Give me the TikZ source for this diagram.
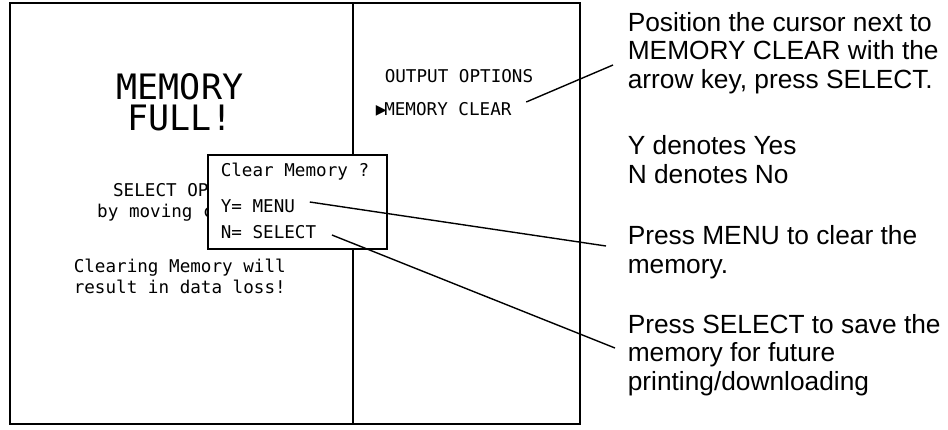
\documentclass[tikz,border=0pt]{standalone}
\usepackage{fontspec}
\setmainfont{Liberation Sans}
\newfontfamily\lcdfont{DejaVu Sans Mono}
\newfontfamily\symfont{DejaVu Sans}

\begin{document}
\begin{tikzpicture}[x=1pt, y=-1pt, line width=1.6pt,
	lcd/.style={font=\lcdfont\fontsize{17.6}{21}\selectfont, inner sep=0pt, anchor=base west},
	big/.style={font=\lcdfont\fontsize{35}{31}\selectfont, inner sep=0pt, align=center, anchor=base},
	note/.style={font=\fontsize{26.3}{28.5}\selectfont, inner sep=0pt, align=left, anchor=base west},
	lead/.style={line width=1.4pt}]
	\useasboundingbox (0,0) rectangle (948,429);
	\draw (10,3) rectangle (353,424);
	\draw (353,3) rectangle (580,424);

	\node[big] (full) at (180,130) {MEMORY\\FULL!};
	\node[lcd, align=center, anchor=base] (selopt) at (182,217) {SELECT OPTION\\by moving cursor};
	\node[lcd, align=left] (warn) at (73,293) {Clearing Memory will\\result in data loss!};

	\node[lcd] (outopt) at (384,82) {OUTPUT OPTIONS};
	\node[lcd] (optclr) at (375,115) {\makebox[8.5pt][l]{\raisebox{0.5pt}{\symfont\fontsize{14}{14}\selectfont ▶}}MEMORY CLEAR};

	\node[draw, fill=white, minimum width=179, minimum height=94, anchor=north west] (popup) at (207,154) {};
	\node[lcd] (askclr) at (220,176) {Clear Memory ?};
	\node[lcd] (menuY) at (220,212) {Y= MENU};
	\node[lcd] (selN) at (220,238) {N= SELECT};

	\node[note] (notecursor) at (627,88) {Position the cursor next to\\MEMORY CLEAR with the\\arrow key, press SELECT.};
	\node[note] (noteyn) at (627,183) {Y denotes Yes\\N denotes No};
	\node[note] (noteclear) at (627,273) {Press MENU to clear the\\memory.};
	\node[note] (notesave) at (627,390) {Press SELECT to save the\\memory for future\\printing/downloading};

	\draw[lead] ([shift={(14,-13)}]optclr.base east) -- ([shift={(-14,-23)}]notecursor.base west);
	\draw[lead] ([shift={(14,-10)}]menuY.base east) -- ([shift={(-21,-27)}]noteclear.base west);
	\draw[lead] ([shift={(15,-3)}]selN.base east) -- ([shift={(-12,-42)}]notesave.base west);
\end{tikzpicture}
\end{document}
